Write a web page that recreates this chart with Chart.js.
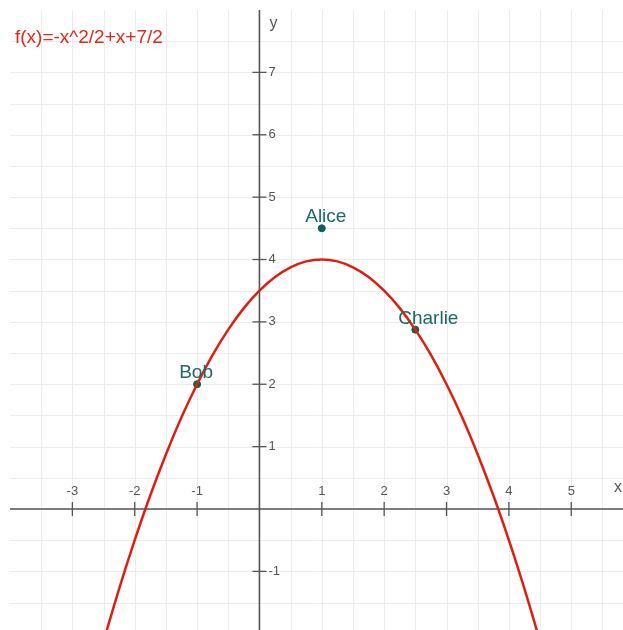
<!DOCTYPE html>
<html lang="en">
<head>
  <meta charset="UTF-8">
  <title>f(x) parabola with people</title>
  <script src="https://cdn.jsdelivr.net/npm/chart.js"></script>
  <style>
    html, body { margin: 0; padding: 0; background: #fff; overflow: hidden; }
    canvas { display: block; }
  </style>
</head>
<body>
  <canvas id="plot" width="623" height="630"></canvas>

  <script>
    // curve samples
    const curveX = [-2.75, -2.5, -2.25, -2, -1.75, -1.5, -1.25, -1, -0.75, -0.5, -0.25, 0,
                    0.25, 0.5, 0.75, 1, 1.25, 1.5, 1.75, 2, 2.25, 2.5, 2.75, 3,
                    3.25, 3.5, 3.75, 4, 4.25, 4.5, 4.75];
    const curveY = [-3.03, -2.125, -1.28, -0.5, 0.22, 0.875, 1.47, 2, 2.47, 2.875, 3.22, 3.5,
                    3.72, 3.875, 3.97, 4, 3.97, 3.875, 3.72, 3.5, 3.22, 2.875, 2.47, 2,
                    1.47, 0.875, 0.22, -0.5, -1.28, -2.125, -3.03];

    // named points
    const names = ['Alice', 'Bob', 'Charlie'];
    const pointX = [1, -1, 2.5];
    const pointY = [4.5, 2, 2.875];

    // axis tick labels
    const xTicks = [-3, -2, -1, 1, 2, 3, 4, 5];
    const yTicks = [-1, 1, 2, 3, 4, 5, 6, 7];

    const formula = 'f(x)=-x^2/2+x+7/2';

    const X_MIN = -4, X_MAX = 5.83, Y_MIN = -1.94, Y_MAX = 8;

    const FONT = '"Liberation Sans", Arial, sans-serif';
    const AXIS = '#555555';
    const TEAL = '#0f5e58';

    // grid, axes and tick labels drawn under the data
    const axesPlugin = {
      id: 'axes',
      beforeDatasetsDraw(chart) {
        const { ctx, chartArea: a } = chart;
        const sx = chart.scales.x, sy = chart.scales.y;
        ctx.save();
        ctx.strokeStyle = '#ececec';
        ctx.lineWidth = 1;
        for (let v = Math.ceil(X_MIN * 2) / 2 + 0.5; v <= X_MAX; v += 0.5) {
          const px = Math.round(sx.getPixelForValue(v)) + 0.5;
          ctx.beginPath(); ctx.moveTo(px, a.top); ctx.lineTo(px, a.bottom); ctx.stroke();
        }
        for (let v = Math.ceil(Y_MIN * 2) / 2; v < Y_MAX; v += 0.5) {
          const py = Math.round(sy.getPixelForValue(v)) + 0.5;
          ctx.beginPath(); ctx.moveTo(a.left, py); ctx.lineTo(a.right, py); ctx.stroke();
        }

        const x0 = sx.getPixelForValue(0), y0 = sy.getPixelForValue(0);
        ctx.strokeStyle = AXIS;
        ctx.lineWidth = 1.6;
        ctx.beginPath();
        ctx.moveTo(a.left, y0); ctx.lineTo(a.right, y0);
        ctx.moveTo(x0, a.top); ctx.lineTo(x0, a.bottom);
        ctx.stroke();

        ctx.fillStyle = AXIS;
        ctx.font = '13px ' + FONT;
        ctx.lineWidth = 1.3;
        ctx.textAlign = 'center';
        ctx.textBaseline = 'alphabetic';
        xTicks.forEach(v => {
          const px = sx.getPixelForValue(v);
          ctx.beginPath(); ctx.moveTo(px, y0 - 7); ctx.lineTo(px, y0 + 7); ctx.stroke();
          ctx.fillText(String(v), px, y0 - 14);
        });
        ctx.textAlign = 'left';
        ctx.textBaseline = 'middle';
        yTicks.forEach(v => {
          const py = sy.getPixelForValue(v);
          ctx.beginPath(); ctx.moveTo(x0 - 7, py); ctx.lineTo(x0 + 7, py); ctx.stroke();
          ctx.fillText(String(v), x0 + 9, py);
        });

        ctx.font = '16px ' + FONT;
        ctx.textAlign = 'center';
        ctx.textBaseline = 'alphabetic';
        ctx.fillText('x', 618, y0 - 17);
        ctx.fillText('y', x0 + 14, 28);

        ctx.fillStyle = '#e0281c';
        ctx.font = '19px ' + FONT;
        ctx.textAlign = 'left';
        ctx.fillText(formula, 15, 43);
        ctx.restore();
      }
    };

    // names above the dots
    const labelShift = { Alice: 4, Bob: -1, Charlie: 13 };
    const namesPlugin = {
      id: 'names',
      afterDatasetsDraw(chart) {
        const { ctx } = chart;
        const meta = chart.getDatasetMeta(1);
        ctx.save();
        ctx.fillStyle = '#1d6964';
        ctx.font = '19px ' + FONT;
        ctx.textAlign = 'center';
        ctx.textBaseline = 'alphabetic';
        meta.data.forEach((pt, i) => {
          ctx.fillText(names[i], pt.x + labelShift[names[i]], pt.y - 6);
        });
        ctx.restore();
      }
    };

    new Chart(document.getElementById('plot'), {
      type: 'scatter',
      data: {
        datasets: [
          {
            label: 'f(x)',
            data: curveX.map((x, i) => ({ x: x, y: curveY[i] })),
            showLine: true,
            borderColor: '#dd1f12',
            borderWidth: 2.5,
            pointRadius: 0,
            cubicInterpolationMode: 'monotone',
            clip: 0
          },
          {
            label: 'people',
            data: pointX.map((x, i) => ({ x: x, y: pointY[i] })),
            backgroundColor: TEAL,
            borderColor: TEAL,
            pointRadius: 3.5
          }
        ]
      },
      options: {
        responsive: false,
        animation: false,
        layout: { autoPadding: false, padding: { left: 10, top: 10, right: 0, bottom: 0 } },
        scales: {
          x: { type: 'linear', min: X_MIN, max: X_MAX, display: false },
          y: { type: 'linear', min: Y_MIN, max: Y_MAX, display: false }
        },
        plugins: {
          legend: { display: false },
          tooltip: { enabled: false }
        }
      },
      plugins: [axesPlugin, namesPlugin]
    });
  </script>
</body>
</html>
